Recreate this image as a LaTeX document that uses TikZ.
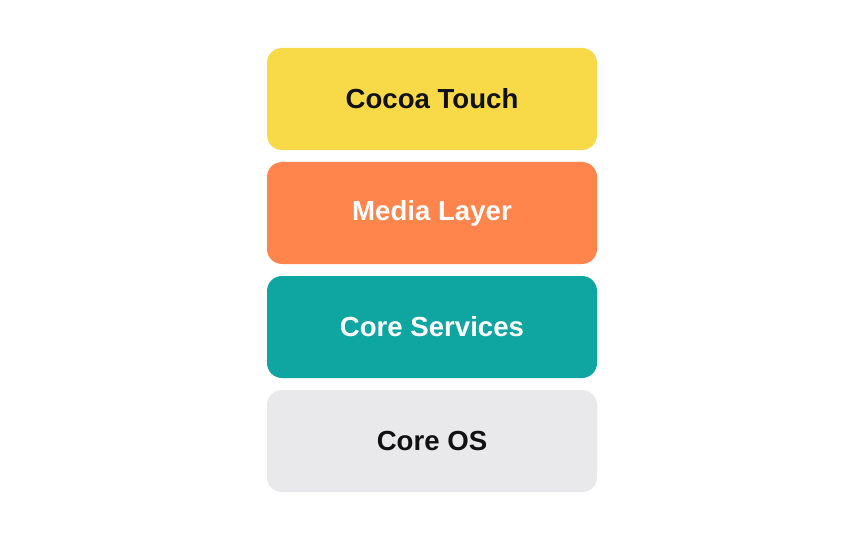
\documentclass[tikz,border=0pt]{standalone}
\usepackage{fontspec}
\setmainfont{Liberation Sans}
\definecolor{cyellow}{HTML}{F8DA48}
\definecolor{corange}{HTML}{FF854D}
\definecolor{cteal}{HTML}{0FA5A0}
\definecolor{cgray}{HTML}{E9E9EB}
\definecolor{ctext}{HTML}{111111}
\begin{document}
\begin{tikzpicture}[x=1pt,y=-1pt,
  layer/.style={rounded corners=15pt, minimum width=330pt, minimum height=102pt,
    inner sep=0pt, font=\fontsize{27.6}{32}\selectfont\bfseries}]
\useasboundingbox[fill=white] (0,0) rectangle (864,540);
\node[layer, fill=cyellow, text=ctext] (cocoa) at (432,99) {Cocoa Touch};
\node[layer, fill=corange, text=white] (media) at (432,213) {Media Layer};
\node[layer, fill=cteal, text=white] (services) at (432,327) {Core Services};
\node[layer, fill=cgray, text=ctext] (os) at (432,441) {Core OS};
\end{tikzpicture}
\end{document}
